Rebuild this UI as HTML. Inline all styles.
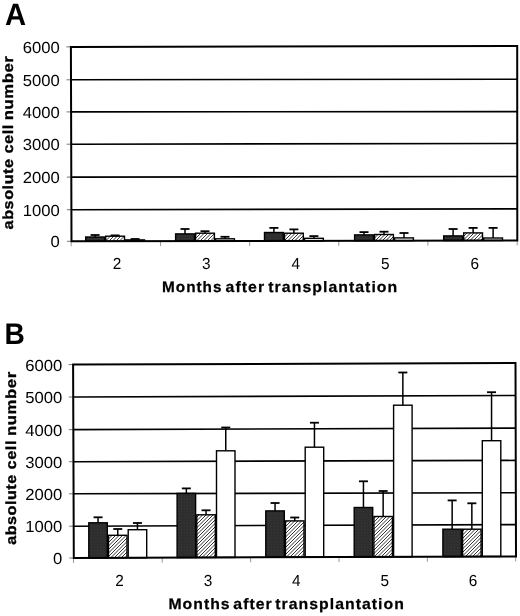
<!DOCTYPE html>
<html><head><meta charset="utf-8"><style>
html,body{margin:0;padding:0;background:#fff;overflow:hidden;}
svg{display:block;filter:blur(0.25px);}
text{font-family:"Liberation Sans",sans-serif;fill:#000;text-rendering:geometricPrecision;}
</style></head><body>
<svg width="520" height="616" viewBox="0 0 520 616">
<defs>
<pattern id="ht" patternUnits="userSpaceOnUse" width="7" height="7">
<rect width="7" height="7" fill="#fff"/><g stroke="#000" stroke-width="0.8"><line x1="-1" y1="1" x2="8" y2="-8"/><line x1="-1" y1="4.5" x2="8" y2="-4.5"/><line x1="-1" y1="8" x2="8" y2="-1"/><line x1="-1" y1="11.5" x2="8" y2="2.5"/><line x1="-1" y1="15" x2="8" y2="6"/></g>
</pattern>
<pattern id="dk" patternUnits="userSpaceOnUse" width="3" height="3">
<rect width="3" height="3" fill="#2e2e2e"/><rect x="1" y="1" width="1" height="1" fill="#383838"/>
</pattern>
</defs>
<line x1="71.2" y1="79.8" x2="517.2" y2="79.2" stroke="#000" stroke-width="1.6"/>
<line x1="71.2" y1="111.9" x2="517.2" y2="111.6" stroke="#000" stroke-width="1.6"/>
<line x1="71.2" y1="144.2" x2="517.2" y2="143.5" stroke="#000" stroke-width="1.6"/>
<line x1="71.2" y1="177.1" x2="517.2" y2="176.5" stroke="#000" stroke-width="1.6"/>
<line x1="71.2" y1="209.7" x2="517.2" y2="208.9" stroke="#000" stroke-width="1.6"/>
<line x1="66.40" y1="46.9" x2="70.90" y2="46.9" stroke="#666" stroke-width="0.9"/>
<line x1="66.50" y1="79.8" x2="71.00" y2="79.8" stroke="#666" stroke-width="0.9"/>
<line x1="66.60" y1="111.9" x2="71.10" y2="111.9" stroke="#666" stroke-width="0.9"/>
<line x1="66.70" y1="144.2" x2="71.20" y2="144.2" stroke="#666" stroke-width="0.9"/>
<line x1="66.80" y1="177.1" x2="71.30" y2="177.1" stroke="#666" stroke-width="0.9"/>
<line x1="66.90" y1="209.7" x2="71.40" y2="209.7" stroke="#666" stroke-width="0.9"/>
<line x1="67.00" y1="241.3" x2="71.50" y2="241.3" stroke="#666" stroke-width="0.9"/>
<line x1="71.2" y1="241.30" x2="71.2" y2="246.30" stroke="#999" stroke-width="1"/>
<line x1="160.6" y1="241.12" x2="160.6" y2="246.12" stroke="#999" stroke-width="1"/>
<line x1="249.7" y1="240.94" x2="249.7" y2="245.94" stroke="#999" stroke-width="1"/>
<line x1="338.8" y1="240.76" x2="338.8" y2="245.76" stroke="#999" stroke-width="1"/>
<line x1="427.9" y1="240.58" x2="427.9" y2="245.58" stroke="#999" stroke-width="1"/>
<line x1="517.2" y1="240.40" x2="517.2" y2="245.40" stroke="#999" stroke-width="1"/>
<line x1="95.10" y1="237.0" x2="95.10" y2="235.0" stroke="#000" stroke-width="1.5"/>
<line x1="90.60" y1="235.0" x2="99.60" y2="235.0" stroke="#000" stroke-width="1.8"/>
<rect x="85.70" y="237.00" width="18.80" height="4.25" fill="url(#dk)" stroke="#000" stroke-width="1.4"/>
<line x1="115.10" y1="236.2" x2="115.10" y2="235.4" stroke="#000" stroke-width="1.5"/>
<line x1="110.60" y1="235.4" x2="119.60" y2="235.4" stroke="#000" stroke-width="1.8"/>
<rect x="105.70" y="236.20" width="18.80" height="5.01" fill="url(#ht)" stroke="#000" stroke-width="1.4"/>
<line x1="135.10" y1="239.89999999999998" x2="135.10" y2="239.0" stroke="#000" stroke-width="1.5"/>
<line x1="130.60" y1="239.0" x2="139.60" y2="239.0" stroke="#000" stroke-width="1.8"/>
<rect x="125.70" y="239.90" width="18.80" height="1.27" fill="#fff" stroke="#000" stroke-width="1.4"/>
<line x1="185.00" y1="233.89999999999998" x2="185.00" y2="229.0" stroke="#000" stroke-width="1.5"/>
<line x1="180.50" y1="229.0" x2="189.50" y2="229.0" stroke="#000" stroke-width="1.8"/>
<rect x="175.60" y="233.90" width="18.80" height="7.17" fill="url(#dk)" stroke="#000" stroke-width="1.4"/>
<line x1="205.00" y1="233.2" x2="205.00" y2="231.2" stroke="#000" stroke-width="1.5"/>
<line x1="200.50" y1="231.2" x2="209.50" y2="231.2" stroke="#000" stroke-width="1.8"/>
<rect x="195.60" y="233.20" width="18.80" height="7.83" fill="url(#ht)" stroke="#000" stroke-width="1.4"/>
<line x1="225.00" y1="238.79999999999998" x2="225.00" y2="236.8" stroke="#000" stroke-width="1.5"/>
<line x1="220.50" y1="236.8" x2="229.50" y2="236.8" stroke="#000" stroke-width="1.8"/>
<rect x="215.60" y="238.80" width="18.80" height="2.19" fill="#fff" stroke="#000" stroke-width="1.4"/>
<line x1="273.90" y1="232.5" x2="273.90" y2="227.9" stroke="#000" stroke-width="1.5"/>
<line x1="269.40" y1="227.9" x2="278.40" y2="227.9" stroke="#000" stroke-width="1.8"/>
<rect x="264.50" y="232.50" width="18.80" height="8.39" fill="url(#dk)" stroke="#000" stroke-width="1.4"/>
<line x1="293.90" y1="233.2" x2="293.90" y2="229.4" stroke="#000" stroke-width="1.5"/>
<line x1="289.40" y1="229.4" x2="298.40" y2="229.4" stroke="#000" stroke-width="1.8"/>
<rect x="284.50" y="233.20" width="18.80" height="7.65" fill="url(#ht)" stroke="#000" stroke-width="1.4"/>
<line x1="313.90" y1="238.29999999999998" x2="313.90" y2="236.1" stroke="#000" stroke-width="1.5"/>
<line x1="309.40" y1="236.1" x2="318.40" y2="236.1" stroke="#000" stroke-width="1.8"/>
<rect x="304.50" y="238.30" width="18.80" height="2.51" fill="#fff" stroke="#000" stroke-width="1.4"/>
<line x1="364.00" y1="234.89999999999998" x2="364.00" y2="232.1" stroke="#000" stroke-width="1.5"/>
<line x1="359.50" y1="232.1" x2="368.50" y2="232.1" stroke="#000" stroke-width="1.8"/>
<rect x="354.60" y="234.90" width="18.80" height="5.81" fill="url(#dk)" stroke="#000" stroke-width="1.4"/>
<line x1="384.00" y1="234.5" x2="384.00" y2="231.7" stroke="#000" stroke-width="1.5"/>
<line x1="379.50" y1="231.7" x2="388.50" y2="231.7" stroke="#000" stroke-width="1.8"/>
<rect x="374.60" y="234.50" width="18.80" height="6.17" fill="url(#ht)" stroke="#000" stroke-width="1.4"/>
<line x1="404.00" y1="237.89999999999998" x2="404.00" y2="233.0" stroke="#000" stroke-width="1.5"/>
<line x1="399.50" y1="233.0" x2="408.50" y2="233.0" stroke="#000" stroke-width="1.8"/>
<rect x="394.60" y="237.90" width="18.80" height="2.73" fill="#fff" stroke="#000" stroke-width="1.4"/>
<line x1="453.10" y1="235.89999999999998" x2="453.10" y2="229.0" stroke="#000" stroke-width="1.5"/>
<line x1="448.60" y1="229.0" x2="457.60" y2="229.0" stroke="#000" stroke-width="1.8"/>
<rect x="443.70" y="235.90" width="18.80" height="4.63" fill="url(#dk)" stroke="#000" stroke-width="1.4"/>
<line x1="473.10" y1="232.89999999999998" x2="473.10" y2="227.9" stroke="#000" stroke-width="1.5"/>
<line x1="468.60" y1="227.9" x2="477.60" y2="227.9" stroke="#000" stroke-width="1.8"/>
<rect x="463.70" y="232.90" width="18.80" height="7.59" fill="url(#ht)" stroke="#000" stroke-width="1.4"/>
<line x1="493.10" y1="238.0" x2="493.10" y2="227.9" stroke="#000" stroke-width="1.5"/>
<line x1="488.60" y1="227.9" x2="497.60" y2="227.9" stroke="#000" stroke-width="1.8"/>
<rect x="483.70" y="238.00" width="18.80" height="2.45" fill="#fff" stroke="#000" stroke-width="1.4"/>
<polygon points="70.9,46.9 517.2,46.1 517.3,240.4 71.5,241.3" fill="none" stroke="#000" stroke-width="2" stroke-linejoin="miter"/>
<line x1="73.5" y1="397.0" x2="515.7" y2="395.5" stroke="#000" stroke-width="1.6"/>
<line x1="73.5" y1="429.6" x2="515.7" y2="428.1" stroke="#000" stroke-width="1.6"/>
<line x1="73.5" y1="461.7" x2="515.7" y2="460.4" stroke="#000" stroke-width="1.6"/>
<line x1="73.5" y1="493.8" x2="515.7" y2="492.8" stroke="#000" stroke-width="1.6"/>
<line x1="73.5" y1="526.2" x2="515.7" y2="524.6" stroke="#000" stroke-width="1.6"/>
<line x1="68.60" y1="364.6" x2="73.10" y2="364.6" stroke="#666" stroke-width="0.9"/>
<line x1="68.72" y1="397.0" x2="73.22" y2="397.0" stroke="#666" stroke-width="0.9"/>
<line x1="68.84" y1="429.6" x2="73.34" y2="429.6" stroke="#666" stroke-width="0.9"/>
<line x1="68.95" y1="461.7" x2="73.45" y2="461.7" stroke="#666" stroke-width="0.9"/>
<line x1="69.07" y1="493.8" x2="73.57" y2="493.8" stroke="#666" stroke-width="0.9"/>
<line x1="69.18" y1="526.2" x2="73.68" y2="526.2" stroke="#666" stroke-width="0.9"/>
<line x1="69.30" y1="558.0" x2="73.80" y2="558.0" stroke="#666" stroke-width="0.9"/>
<line x1="73.5" y1="558.00" x2="73.5" y2="563.00" stroke="#999" stroke-width="1"/>
<line x1="162.2" y1="557.68" x2="162.2" y2="562.68" stroke="#999" stroke-width="1"/>
<line x1="250.6" y1="557.36" x2="250.6" y2="562.36" stroke="#999" stroke-width="1"/>
<line x1="339.0" y1="557.04" x2="339.0" y2="562.04" stroke="#999" stroke-width="1"/>
<line x1="427.4" y1="556.72" x2="427.4" y2="561.72" stroke="#999" stroke-width="1"/>
<line x1="515.7" y1="556.40" x2="515.7" y2="561.40" stroke="#999" stroke-width="1"/>
<line x1="98.05" y1="522.8000000000001" x2="98.05" y2="517.3" stroke="#000" stroke-width="1.5"/>
<line x1="93.55" y1="517.3" x2="102.55" y2="517.3" stroke="#000" stroke-width="1.8"/>
<rect x="88.80" y="522.80" width="18.50" height="35.11" fill="url(#dk)" stroke="#000" stroke-width="1.4"/>
<line x1="117.75" y1="535.3000000000001" x2="117.75" y2="529.0" stroke="#000" stroke-width="1.5"/>
<line x1="113.25" y1="529.0" x2="122.25" y2="529.0" stroke="#000" stroke-width="1.8"/>
<rect x="108.50" y="535.30" width="18.50" height="22.54" fill="url(#ht)" stroke="#000" stroke-width="1.4"/>
<line x1="137.45" y1="529.7" x2="137.45" y2="523.0" stroke="#000" stroke-width="1.5"/>
<line x1="132.95" y1="523.0" x2="141.95" y2="523.0" stroke="#000" stroke-width="1.8"/>
<rect x="128.20" y="529.70" width="18.50" height="28.07" fill="#fff" stroke="#000" stroke-width="1.4"/>
<line x1="186.35" y1="493.4" x2="186.35" y2="488.4" stroke="#000" stroke-width="1.5"/>
<line x1="181.85" y1="488.4" x2="190.85" y2="488.4" stroke="#000" stroke-width="1.8"/>
<rect x="177.10" y="493.40" width="18.50" height="64.19" fill="url(#dk)" stroke="#000" stroke-width="1.4"/>
<line x1="206.05" y1="514.8000000000001" x2="206.05" y2="510.3" stroke="#000" stroke-width="1.5"/>
<line x1="201.55" y1="510.3" x2="210.55" y2="510.3" stroke="#000" stroke-width="1.8"/>
<rect x="196.80" y="514.80" width="18.50" height="42.72" fill="url(#ht)" stroke="#000" stroke-width="1.4"/>
<line x1="225.75" y1="450.8" x2="225.75" y2="427.5" stroke="#000" stroke-width="1.5"/>
<line x1="221.25" y1="427.5" x2="230.25" y2="427.5" stroke="#000" stroke-width="1.8"/>
<rect x="216.50" y="450.80" width="18.50" height="106.65" fill="#fff" stroke="#000" stroke-width="1.4"/>
<line x1="275.05" y1="510.9" x2="275.05" y2="503.0" stroke="#000" stroke-width="1.5"/>
<line x1="270.55" y1="503.0" x2="279.55" y2="503.0" stroke="#000" stroke-width="1.8"/>
<rect x="265.80" y="510.90" width="18.50" height="46.37" fill="url(#dk)" stroke="#000" stroke-width="1.4"/>
<line x1="294.75" y1="520.9000000000001" x2="294.75" y2="517.5" stroke="#000" stroke-width="1.5"/>
<line x1="290.25" y1="517.5" x2="299.25" y2="517.5" stroke="#000" stroke-width="1.8"/>
<rect x="285.50" y="520.90" width="18.50" height="36.30" fill="url(#ht)" stroke="#000" stroke-width="1.4"/>
<line x1="314.45" y1="447.2" x2="314.45" y2="422.7" stroke="#000" stroke-width="1.5"/>
<line x1="309.95" y1="422.7" x2="318.95" y2="422.7" stroke="#000" stroke-width="1.8"/>
<rect x="305.20" y="447.20" width="18.50" height="109.93" fill="#fff" stroke="#000" stroke-width="1.4"/>
<line x1="363.45" y1="507.5" x2="363.45" y2="481.3" stroke="#000" stroke-width="1.5"/>
<line x1="358.95" y1="481.3" x2="367.95" y2="481.3" stroke="#000" stroke-width="1.8"/>
<rect x="354.20" y="507.50" width="18.50" height="49.45" fill="url(#dk)" stroke="#000" stroke-width="1.4"/>
<line x1="383.15" y1="516.5" x2="383.15" y2="491.0" stroke="#000" stroke-width="1.5"/>
<line x1="378.65" y1="491.0" x2="387.65" y2="491.0" stroke="#000" stroke-width="1.8"/>
<rect x="373.90" y="516.50" width="18.50" height="40.38" fill="url(#ht)" stroke="#000" stroke-width="1.4"/>
<line x1="402.85" y1="405.2" x2="402.85" y2="372.5" stroke="#000" stroke-width="1.5"/>
<line x1="398.35" y1="372.5" x2="407.35" y2="372.5" stroke="#000" stroke-width="1.8"/>
<rect x="393.60" y="405.20" width="18.50" height="151.61" fill="#fff" stroke="#000" stroke-width="1.4"/>
<line x1="452.15" y1="529.2" x2="452.15" y2="500.4" stroke="#000" stroke-width="1.5"/>
<line x1="447.65" y1="500.4" x2="456.65" y2="500.4" stroke="#000" stroke-width="1.8"/>
<rect x="442.90" y="529.20" width="18.50" height="27.43" fill="url(#dk)" stroke="#000" stroke-width="1.4"/>
<line x1="471.85" y1="529.2" x2="471.85" y2="503.3" stroke="#000" stroke-width="1.5"/>
<line x1="467.35" y1="503.3" x2="476.35" y2="503.3" stroke="#000" stroke-width="1.8"/>
<rect x="462.60" y="529.20" width="18.50" height="27.36" fill="url(#ht)" stroke="#000" stroke-width="1.4"/>
<line x1="491.55" y1="440.7" x2="491.55" y2="392.2" stroke="#000" stroke-width="1.5"/>
<line x1="487.05" y1="392.2" x2="496.05" y2="392.2" stroke="#000" stroke-width="1.8"/>
<rect x="482.30" y="440.70" width="18.50" height="115.79" fill="#fff" stroke="#000" stroke-width="1.4"/>
<polygon points="73.1,364.6 515.5,363.0 516.0,556.4 73.8,558.0" fill="none" stroke="#000" stroke-width="2" stroke-linejoin="miter"/>
<g transform="translate(59.8,52.90) scale(1.04,1)"><text x="0" y="0" font-size="16.0" font-weight="normal" text-anchor="end" >6000</text></g>
<g transform="translate(59.8,85.80) scale(1.04,1)"><text x="0" y="0" font-size="16.0" font-weight="normal" text-anchor="end" >5000</text></g>
<g transform="translate(59.8,117.90) scale(1.04,1)"><text x="0" y="0" font-size="16.0" font-weight="normal" text-anchor="end" >4000</text></g>
<g transform="translate(59.8,150.20) scale(1.04,1)"><text x="0" y="0" font-size="16.0" font-weight="normal" text-anchor="end" >3000</text></g>
<g transform="translate(59.8,183.10) scale(1.04,1)"><text x="0" y="0" font-size="16.0" font-weight="normal" text-anchor="end" >2000</text></g>
<g transform="translate(59.8,215.70) scale(1.04,1)"><text x="0" y="0" font-size="16.0" font-weight="normal" text-anchor="end" >1000</text></g>
<g transform="translate(59.8,247.30) scale(1.04,1)"><text x="0" y="0" font-size="16.0" font-weight="normal" text-anchor="end" >0</text></g>
<g transform="translate(62.2,370.50) scale(1.04,1)"><text x="0" y="0" font-size="16.0" font-weight="normal" text-anchor="end" >6000</text></g>
<g transform="translate(62.2,402.90) scale(1.04,1)"><text x="0" y="0" font-size="16.0" font-weight="normal" text-anchor="end" >5000</text></g>
<g transform="translate(62.2,435.50) scale(1.04,1)"><text x="0" y="0" font-size="16.0" font-weight="normal" text-anchor="end" >4000</text></g>
<g transform="translate(62.2,467.60) scale(1.04,1)"><text x="0" y="0" font-size="16.0" font-weight="normal" text-anchor="end" >3000</text></g>
<g transform="translate(62.2,499.70) scale(1.04,1)"><text x="0" y="0" font-size="16.0" font-weight="normal" text-anchor="end" >2000</text></g>
<g transform="translate(62.2,532.10) scale(1.04,1)"><text x="0" y="0" font-size="16.0" font-weight="normal" text-anchor="end" >1000</text></g>
<g transform="translate(62.2,563.90) scale(1.04,1)"><text x="0" y="0" font-size="16.0" font-weight="normal" text-anchor="end" >0</text></g>
<g transform="translate(116.90,268.6) scale(0.96,1)"><text x="0" y="0" font-size="16.0" font-weight="normal" text-anchor="middle" >2</text></g>
<g transform="translate(119.50,585.6) scale(0.96,1)"><text x="0" y="0" font-size="16.0" font-weight="normal" text-anchor="middle" >2</text></g>
<g transform="translate(206.35,268.6) scale(0.96,1)"><text x="0" y="0" font-size="16.0" font-weight="normal" text-anchor="middle" >3</text></g>
<g transform="translate(207.90,585.6) scale(0.96,1)"><text x="0" y="0" font-size="16.0" font-weight="normal" text-anchor="middle" >3</text></g>
<g transform="translate(295.80,268.6) scale(0.96,1)"><text x="0" y="0" font-size="16.0" font-weight="normal" text-anchor="middle" >4</text></g>
<g transform="translate(296.30,585.6) scale(0.96,1)"><text x="0" y="0" font-size="16.0" font-weight="normal" text-anchor="middle" >4</text></g>
<g transform="translate(385.25,268.6) scale(0.96,1)"><text x="0" y="0" font-size="16.0" font-weight="normal" text-anchor="middle" >5</text></g>
<g transform="translate(384.70,585.6) scale(0.96,1)"><text x="0" y="0" font-size="16.0" font-weight="normal" text-anchor="middle" >5</text></g>
<g transform="translate(474.70,268.6) scale(0.96,1)"><text x="0" y="0" font-size="16.0" font-weight="normal" text-anchor="middle" >6</text></g>
<g transform="translate(473.10,585.6) scale(0.96,1)"><text x="0" y="0" font-size="16.0" font-weight="normal" text-anchor="middle" >6</text></g>
<text x="162.0" y="292.3" font-size="15.2" font-weight="bold" textLength="60.5" lengthAdjust="spacingAndGlyphs" letter-spacing="1.0" stroke="#000" stroke-width="0.25">Months</text>
<text x="225.6" y="292.3" font-size="15.2" font-weight="bold" textLength="39.5" lengthAdjust="spacingAndGlyphs" letter-spacing="1.0" stroke="#000" stroke-width="0.25">after</text>
<text x="268.3" y="292.3" font-size="15.2" font-weight="bold" textLength="130.0" lengthAdjust="spacingAndGlyphs" letter-spacing="1.0" stroke="#000" stroke-width="0.25">transplantation</text>
<text x="168.4" y="609.4" font-size="15.2" font-weight="bold" textLength="62.3" lengthAdjust="spacingAndGlyphs" letter-spacing="1.0" stroke="#000" stroke-width="0.25">Months</text>
<text x="233.3" y="609.4" font-size="15.2" font-weight="bold" textLength="39.5" lengthAdjust="spacingAndGlyphs" letter-spacing="1.0" stroke="#000" stroke-width="0.25">after</text>
<text x="275.2" y="609.4" font-size="15.2" font-weight="bold" textLength="129.7" lengthAdjust="spacingAndGlyphs" letter-spacing="1.0" stroke="#000" stroke-width="0.25">transplantation</text>
<text transform="translate(13.0,229.4) rotate(-90)" font-size="14.6" font-weight="bold" textLength="71.0" lengthAdjust="spacingAndGlyphs" letter-spacing="0.5" stroke="#000" stroke-width="0.35">absolute</text>
<text transform="translate(13.0,153.6) rotate(-90)" font-size="14.6" font-weight="bold" textLength="29.5" lengthAdjust="spacingAndGlyphs" letter-spacing="0.5" stroke="#000" stroke-width="0.35">cell</text>
<text transform="translate(13.0,120.3) rotate(-90)" font-size="14.6" font-weight="bold" textLength="64.6" lengthAdjust="spacingAndGlyphs" letter-spacing="0.5" stroke="#000" stroke-width="0.35">number</text>
<text transform="translate(15.8,544.8) rotate(-90)" font-size="14.6" font-weight="bold" textLength="70.5" lengthAdjust="spacingAndGlyphs" letter-spacing="0.5" stroke="#000" stroke-width="0.35">absolute</text>
<text transform="translate(15.8,469.5) rotate(-90)" font-size="14.6" font-weight="bold" textLength="29.5" lengthAdjust="spacingAndGlyphs" letter-spacing="0.5" stroke="#000" stroke-width="0.35">cell</text>
<text transform="translate(15.8,435.9) rotate(-90)" font-size="14.6" font-weight="bold" textLength="64.6" lengthAdjust="spacingAndGlyphs" letter-spacing="0.5" stroke="#000" stroke-width="0.35">number</text>
<g transform="translate(5.0,24.6) scale(0.95,1)"><text x="0" y="0" font-size="30.8" font-weight="bold" text-anchor="start" >A</text></g>
<g transform="translate(4.6,343.8) scale(0.94,1)"><text x="0" y="0" font-size="29.9" font-weight="bold" text-anchor="start" >B</text></g>
</svg>
</body></html>
